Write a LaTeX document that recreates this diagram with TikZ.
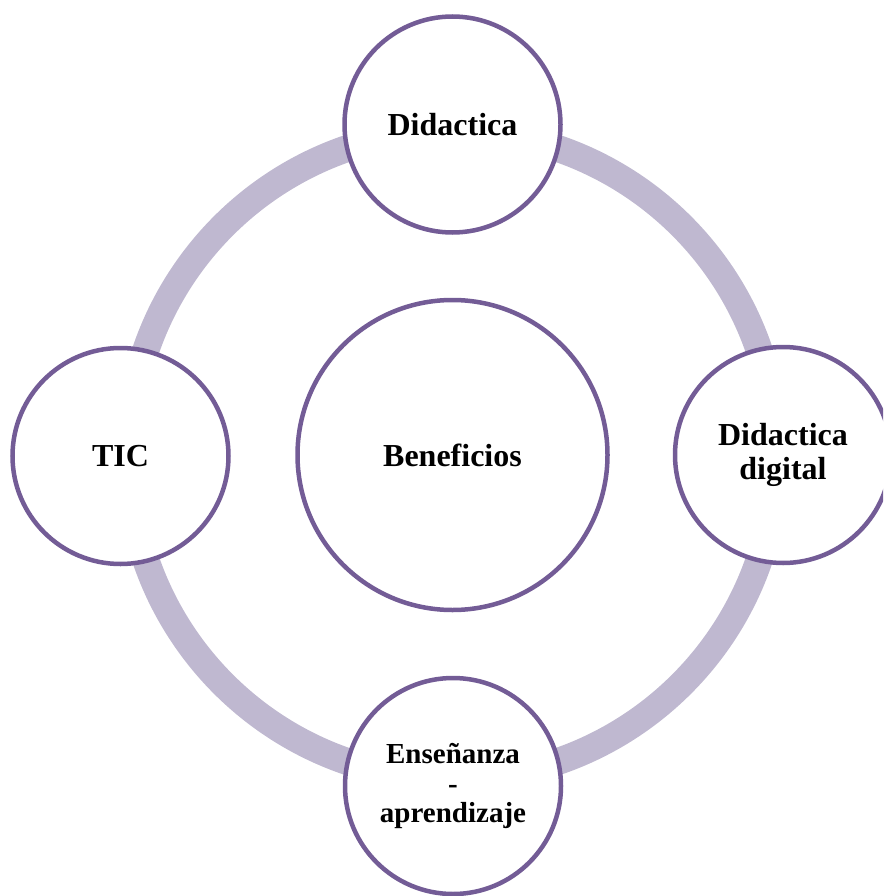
\documentclass[tikz,border=0pt]{standalone}
\usepackage{fontspec}
\setmainfont{Liberation Serif}
\definecolor{ringlav}{RGB}{191,184,208}
\definecolor{circpurple}{RGB}{115,92,150}
\begin{document}
\begin{tikzpicture}[x=1pt,y=-1pt,
  bubble/.style={circle,draw=circpurple,line width=4.5pt,fill=white,inner sep=0pt,
    minimum size=216pt,align=center,font=\bfseries\fontsize{32}{34}\selectfont},
  bigbubble/.style={bubble,minimum size=310pt}]
\useasboundingbox (0,0) rectangle (883,896);
\clip (0,0) rectangle (883,896);
\coordinate (mid) at (452.5,455);
\draw[ringlav,line width=27pt] (mid) circle[radius=324];
\node[bigbubble] (center) at (mid) {Beneficios};
\node[bubble] (top) at (452.5,124.5) {Didactica};
\node[bubble] (left) at (120.5,456) {TIC};
\node[bubble] (right) at (783,455) {Didactica\\digital};
\node[bubble,font=\bfseries\fontsize{29}{29.5}\selectfont] (bottom) at (453,786) {Enseñanza\\-\\aprendizaje};
\end{tikzpicture}
\end{document}
